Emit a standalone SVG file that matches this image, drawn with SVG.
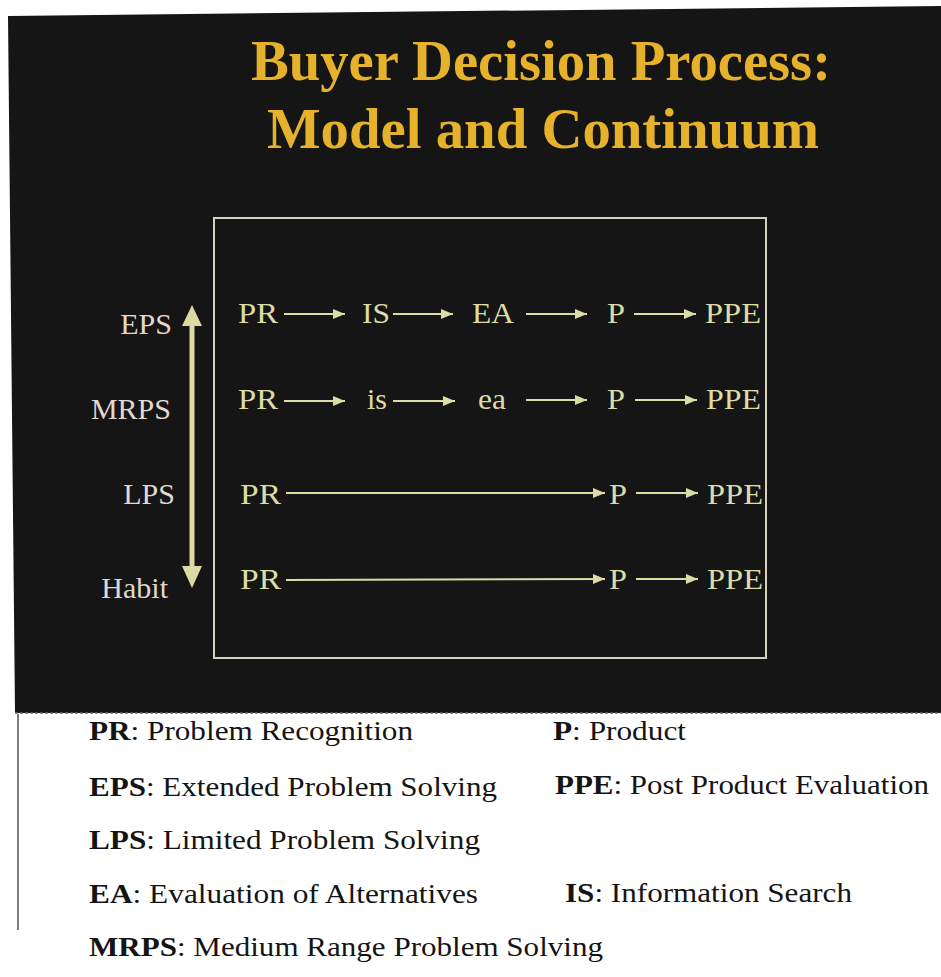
<svg xmlns="http://www.w3.org/2000/svg" width="941" height="977" viewBox="0 0 941 977">
  <defs>
    <style>
      text { font-family: 'Liberation Serif', 'DejaVu Serif', serif; }
      .title { font-weight: bold; font-size: 56px; fill: #e6b22c; }
      .step { font-size: 30px; fill: #dcdca6; }
      .level { font-size: 30px; fill: #e2d8ce; text-anchor: end; }
      .legend { font-size: 27px; fill: #141414; }
      .k { font-weight: bold; }
      .conn { stroke: #dcdca6; stroke-width: 2; fill: none; marker-end: url(#head); }
    </style>
    <marker id="head" markerUnits="userSpaceOnUse" markerWidth="13" markerHeight="10" refX="12" refY="5" orient="auto">
      <path d="M0,0 L12,5 L0,10 Z" fill="#dcdca6"/>
    </marker>
  </defs>

  <!-- page -->
  <rect x="0" y="0" width="941" height="977" fill="#ffffff"/>
  <!-- dark slide panel -->
  <polygon points="8,16 941,6 941,713 15,713" fill="#151515"/>
  <line x1="15" y1="713" x2="941" y2="713" stroke="#6a6a6a" stroke-width="1.5" stroke-dasharray="3 2"/>
  <!-- left edge of legend sheet -->
  <line x1="18" y1="714" x2="18" y2="930" stroke="#555555" stroke-width="1.5"/>

  <!-- title -->
  <g id="title" font-family="Liberation Serif, DejaVu Serif, serif">
    <text class="title" x="251" y="80" textLength="580" lengthAdjust="spacingAndGlyphs">Buyer Decision Process:</text>
    <text class="title" x="267" y="148" textLength="552" lengthAdjust="spacingAndGlyphs">Model and Continuum</text>
  </g>

  <!-- frame around the process rows -->
  <rect id="frame" x="214" y="218" width="552" height="440" fill="none" stroke="#d4d0bc" stroke-width="2"/>

  <!-- continuum axis -->
  <g id="continuum">
    <rect x="189.5" y="323" width="5" height="246" fill="#ddd9a2"/>
    <path d="M192,305 L202,326 L182,326 Z" fill="#ddd9a2"/>
    <path d="M192,588 L202,566 L182,566 Z" fill="#ddd9a2"/>
    <text id="lvl-eps" class="level" x="172" y="334">EPS</text>
    <text id="lvl-mrps" class="level" x="171" y="419">MRPS</text>
    <text id="lvl-lps" class="level" x="175" y="504">LPS</text>
    <text id="lvl-habit" class="level" x="168" y="598">Habit</text>
  </g>

  <!-- row 1: extended problem solving -->
  <g id="row-eps">
    <text id="eps-pr" class="step" x="238" y="323" textLength="40" lengthAdjust="spacingAndGlyphs">PR</text>
    <text id="eps-is" class="step" x="362" y="323" textLength="28" lengthAdjust="spacingAndGlyphs">IS</text>
    <text id="eps-ea" class="step" x="472" y="323" textLength="42" lengthAdjust="spacingAndGlyphs">EA</text>
    <text id="eps-p" class="step" x="607" y="323" textLength="18" lengthAdjust="spacingAndGlyphs">P</text>
    <text id="eps-ppe" class="step" x="705" y="323" textLength="56" lengthAdjust="spacingAndGlyphs">PPE</text>
  </g>

  <!-- row 2: medium range problem solving -->
  <g id="row-mrps">
    <text id="mrps-pr" class="step" x="238" y="409" textLength="40" lengthAdjust="spacingAndGlyphs">PR</text>
    <text id="mrps-is" class="step" x="367" y="409" textLength="20" lengthAdjust="spacingAndGlyphs">is</text>
    <text id="mrps-ea" class="step" x="478" y="409" textLength="28" lengthAdjust="spacingAndGlyphs">ea</text>
    <text id="mrps-p" class="step" x="607" y="409" textLength="18" lengthAdjust="spacingAndGlyphs">P</text>
    <text id="mrps-ppe" class="step" x="706" y="409" textLength="55" lengthAdjust="spacingAndGlyphs">PPE</text>
  </g>

  <!-- row 3: limited problem solving -->
  <g id="row-lps">
    <text id="lps-pr" class="step" x="240" y="504" textLength="41" lengthAdjust="spacingAndGlyphs">PR</text>
    <text id="lps-p" class="step" x="609" y="504" textLength="18" lengthAdjust="spacingAndGlyphs">P</text>
    <text id="lps-ppe" class="step" x="707" y="504" textLength="56" lengthAdjust="spacingAndGlyphs">PPE</text>
  </g>

  <!-- row 4: habit -->
  <g id="row-habit">
    <text id="habit-pr" class="step" x="240" y="589" textLength="41" lengthAdjust="spacingAndGlyphs">PR</text>
    <text id="habit-p" class="step" x="609" y="589" textLength="18" lengthAdjust="spacingAndGlyphs">P</text>
    <text id="habit-ppe" class="step" x="707" y="589" textLength="56" lengthAdjust="spacingAndGlyphs">PPE</text>
  </g>

  <!-- connectors -->
  <g id="connectors">
    <line class="conn" x1="284" y1="314" x2="345" y2="314"/>
    <line class="conn" x1="393" y1="314" x2="453" y2="314"/>
    <line class="conn" x1="526" y1="314" x2="587" y2="314"/>
    <line class="conn" x1="634" y1="314" x2="696" y2="314"/>

    <line class="conn" x1="284" y1="401" x2="345" y2="401"/>
    <line class="conn" x1="393" y1="401" x2="455" y2="401"/>
    <line class="conn" x1="526" y1="400" x2="587" y2="400"/>
    <line class="conn" x1="635" y1="400" x2="697" y2="400"/>

    <line class="conn" x1="286" y1="493" x2="605" y2="493"/>
    <line class="conn" x1="636" y1="493" x2="698" y2="493"/>

    <line class="conn" x1="286" y1="580" x2="605" y2="579"/>
    <line class="conn" x1="636" y1="579" x2="698" y2="579"/>
  </g>

  <!-- abbreviation key -->
  <g id="legend">
    <text class="legend" x="89" y="740" textLength="324" lengthAdjust="spacingAndGlyphs"><tspan class="k">PR</tspan>: Problem Recognition</text>
    <text class="legend" x="553" y="740" textLength="133" lengthAdjust="spacingAndGlyphs"><tspan class="k">P</tspan>: Product</text>
    <text class="legend" x="89" y="796" textLength="408" lengthAdjust="spacingAndGlyphs"><tspan class="k">EPS</tspan>: Extended Problem Solving</text>
    <text class="legend" x="555" y="794" textLength="374" lengthAdjust="spacingAndGlyphs"><tspan class="k">PPE</tspan>: Post Product Evaluation</text>
    <text class="legend" x="89" y="849" textLength="391" lengthAdjust="spacingAndGlyphs"><tspan class="k">LPS</tspan>: Limited Problem Solving</text>
    <text class="legend" x="89" y="903" textLength="389" lengthAdjust="spacingAndGlyphs"><tspan class="k">EA</tspan>: Evaluation of Alternatives</text>
    <text class="legend" x="565" y="902" textLength="287" lengthAdjust="spacingAndGlyphs"><tspan class="k">IS</tspan>: Information Search</text>
    <text class="legend" x="89" y="956" textLength="514" lengthAdjust="spacingAndGlyphs"><tspan class="k">MRPS</tspan>: Medium Range Problem Solving</text>
  </g>
</svg>
